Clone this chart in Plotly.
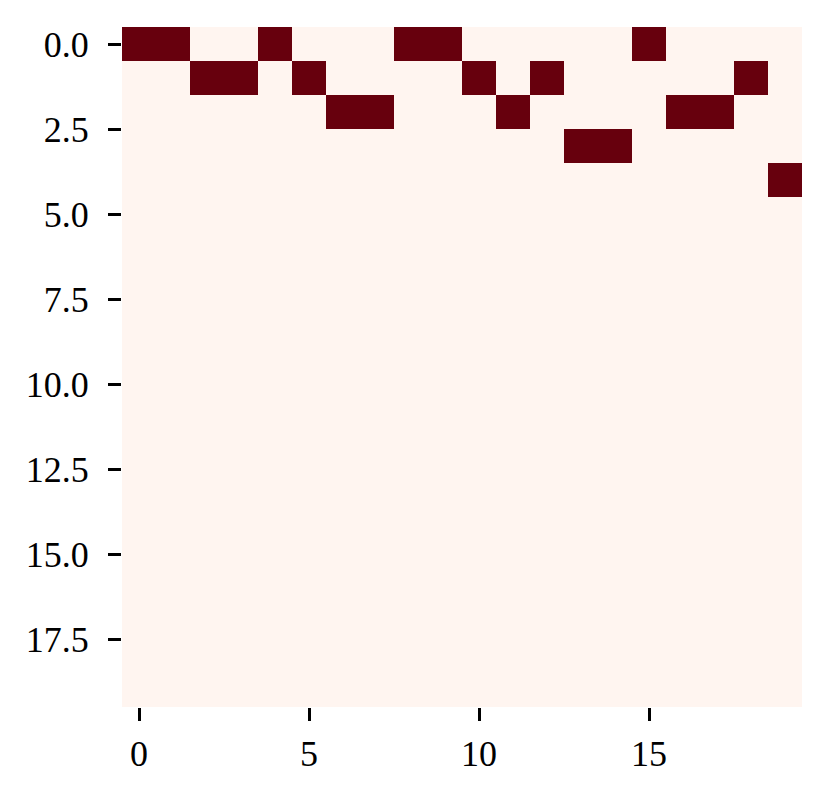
import plotly.graph_objects as go

n_rows = 20
n_cols = 20
# row index of the single "on" cell in each column
active_row = [0, 0, 1, 1, 0, 1, 2, 2, 0, 0, 1, 2, 1, 3, 3, 0, 2, 2, 1, 4]

z = [[0] * n_cols for _ in range(n_rows)]
for c, r in enumerate(active_row):
    z[r][c] = 1

x_ticks = [0, 5, 10, 15]
y_ticks = [0, 2.5, 5, 7.5, 10, 12.5, 15, 17.5]
y_ticklabels = ["0.0", "2.5", "5.0", "7.5", "10.0", "12.5", "15.0", "17.5"]

fig = go.Figure(go.Heatmap(
    z=z,
    x=list(range(n_cols)),
    y=list(range(n_rows)),
    colorscale=[[0, "#fff5f0"], [1, "#67000d"]],
    zmin=0, zmax=1,
    showscale=False,
    hoverinfo="skip",
))

font = dict(family="Liberation Serif, serif", size=36, color="black")
fig.update_layout(
    width=829, height=795,
    margin=dict(l=114, r=35, t=19, b=96),
    paper_bgcolor="white", plot_bgcolor="white",
    font=font,
)
fig.update_xaxes(
    range=[-0.5, 19.5], tickvals=x_ticks, ticktext=[str(v) for v in x_ticks],
    ticks="outside", ticklen=13, tickwidth=3, tickcolor="black",
    showgrid=False, zeroline=False, showline=False, tickfont=font,
    ticklabelstandoff=2,
)
fig.update_yaxes(
    range=[19.5, -0.5], tickvals=y_ticks, ticktext=y_ticklabels,
    ticks="outside", ticklen=13, tickwidth=3, tickcolor="black",
    showgrid=False, zeroline=False, showline=False, tickfont=font,
    ticklabelstandoff=12,
)

fig.write_html("out.html")
